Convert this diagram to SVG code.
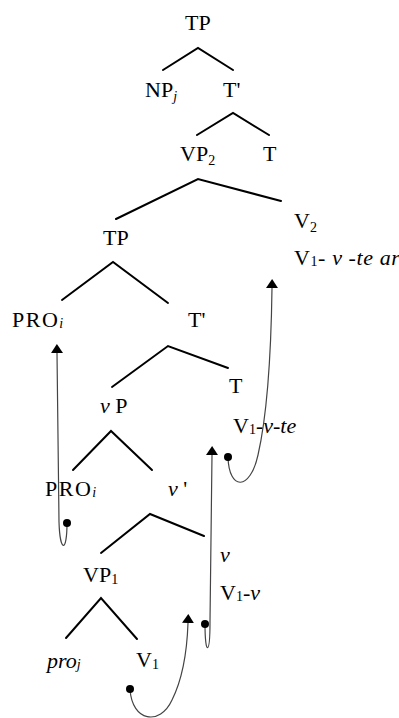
<svg xmlns="http://www.w3.org/2000/svg" width="399" height="718" viewBox="0 0 399 718">
<style>
text{font-family:"Liberation Serif","Times New Roman",serif;font-size:22px;fill:#000}
.it{font-style:italic}
.sub{font-size:14px}
.pro{letter-spacing:1.5px}
.edge{stroke:#000;stroke-width:2;fill:none;stroke-linecap:round}
.mv{stroke:#444;stroke-width:1.2;fill:none}
</style>
<defs>
<marker id="ah" markerUnits="userSpaceOnUse" markerWidth="9" markerHeight="12" viewBox="0 0 9 12" refX="0" refY="6" orient="auto">
<path d="M0,0 L9,6 L0,12 Z" fill="#000"/>
</marker>
</defs>
<g id="n-tp1"><text x="185" y="30">TP</text></g>
<g id="n-npj"><text x="145" y="97">NP<tspan class="sub it" dy="4">j</tspan></text></g>
<g id="n-tbar1"><text x="223" y="97">T'</text></g>
<g id="n-vp2"><text x="180" y="161">VP<tspan class="sub" dy="4">2</tspan></text></g>
<g id="n-t1"><text x="263" y="161">T</text></g>
<g id="n-tp2"><text x="103" y="245">TP</text></g>
<g id="n-v2"><text x="294" y="228">V<tspan class="sub" dy="4">2</tspan></text>
<text x="294" y="265" style="letter-spacing:0.6px">V<tspan class="sub" dy="1">1</tspan><tspan dy="-1">- </tspan><tspan class="it">v</tspan> -<tspan class="it">te ar</tspan></text></g>
<g id="n-pro1"><text x="12" y="327"><tspan class="pro">PRO</tspan><tspan class="sub it" dy="1">i</tspan></text></g>
<g id="n-tbar2"><text x="188" y="327">T'</text></g>
<g id="n-t2"><text x="229" y="393">T</text>
<text x="233" y="433">V<tspan class="sub" dy="1">1</tspan><tspan dy="-1">-</tspan><tspan class="it">v</tspan>-<tspan class="it">te</tspan></text></g>
<g id="n-vp"><text x="100" y="413"><tspan class="it">v</tspan> P</text></g>
<g id="n-pro2"><text x="45" y="496"><tspan class="pro">PRO</tspan><tspan class="sub it" dy="1">i</tspan></text></g>
<g id="n-vbar"><text x="168" y="496"><tspan class="it">v</tspan> '</text></g>
<g id="n-v"><text x="220" y="562" class="it">v</text>
<text x="220" y="600">V<tspan class="sub" dy="1">1</tspan><tspan dy="-1">-</tspan><tspan class="it">v</tspan></text></g>
<g id="n-vp1"><text x="83" y="582">VP<tspan class="sub" dy="2">1</tspan></text></g>
<g id="n-proj"><text x="47" y="668" class="it">pro<tspan class="sub" dy="1">j</tspan></text></g>
<g id="n-v1"><text x="136" y="667">V<tspan class="sub" dy="2">1</tspan></text></g>
<g id="edges">
<path class="edge" d="M163,70 L198,48 L233,70"/>
<path class="edge" d="M197,135 L233,113 L269,135"/>
<path class="edge" d="M116,219 L198,179 L281,201"/>
<path class="edge" d="M62,300 L113,262 L168,303"/>
<path class="edge" d="M112,387 L168,346 L228,368"/>
<path class="edge" d="M73,470 L111,431 L152,470"/>
<path class="edge" d="M101,553 L150,514 L204,536"/>
<path class="edge" d="M66,638 L101,598 L137,639"/>
</g>
<g id="movement">
<path class="mv" marker-end="url(#ah)" d="M67,523 C67,553 60,553 59,522 L57,353"/>
<path class="mv" marker-end="url(#ah)" d="M205,624 C205,656 210,656 210,622 L212,455"/>
<path class="mv" marker-end="url(#ah)" d="M130,689 C132,722 160,726 172,700 C182,680 187,652 188,623"/>
<path class="mv" marker-end="url(#ah)" d="M228,457 C229,491 250,491 258,455 C266,420 271,360 272,288"/>
<circle cx="67" cy="523" r="4"/>
<circle cx="205" cy="624" r="4"/>
<circle cx="130" cy="689" r="4"/>
<circle cx="228" cy="457" r="4"/>
</g>
</svg>
